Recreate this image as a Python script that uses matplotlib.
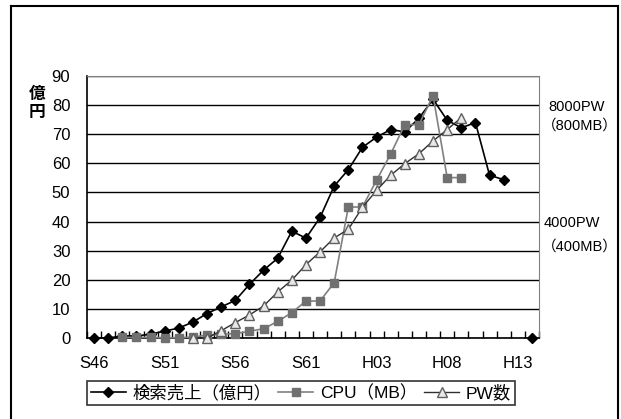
import numpy as np
import matplotlib
matplotlib.use("Agg")
import matplotlib.pyplot as plt
from matplotlib.lines import Line2D

plt.rcParams["font.family"] = ["Liberation Sans", "Noto Sans CJK JP"]

# categories: S46 (1971) .. H14 (2002)
years = list(range(1971, 2003))
tick_labels = ["S46", "S51", "S56", "S61", "H03", "H08", "H13"]

# 検索売上(億円)
sales = [0, 0, 0.7, 0.7, 1.3, 2.4, 3.4, 5.5, 8.4, 10.7, 12.9, 18.4, 23.3, 27.4,
         36.7, 34.3, 41.4, 52.2, 57.8, 65.5, 69.0, 71.6, 70.8, 75.5, 82.0,
         74.8, 72.2, 74.0, 55.9, 54.4, None, 0]
# CPU(MB) (scaled /10)
cpu = [None, None, 0.2, 0.2, 0.2, 0.1, 0.1, 0.3, 1.0, 1.3, 1.5, 2.3, 3.2, 5.7,
       8.7, 12.7, 12.7, 19.0, 45.0, 45.0, 54.2, 63.2, 73.3, 73.3, 83.2,
       55.1, 55.1, None, None, None, None, None]
# PW数 (scaled /100)
pw = [None] * 7 + [0, 0, 2.5, 5.3, 7.9, 11.0, 15.8, 19.9, 25.2, 29.6, 34.4,
                   37.3, 44.9, 50.7, 55.9, 59.9, 63.3, 67.7, 71.6, 75.7,
                   None, None, None, None, None]

labels = ["検索売上（億円）", "CPU（MB）", "PW数"]

def arr(v):
    return np.array([np.nan if a is None else a for a in v], dtype=float)

x = np.arange(len(years))

fig = plt.figure(figsize=(6.21, 4.19), dpi=100)
ax = fig.add_axes([87 / 621, 1 - 338 / 419, 452 / 621, 262 / 419])

ax.plot(x, arr(sales), color="black", lw=1.2, marker="D", ms=5.5,
        mfc="black", mec="black", clip_on=False, zorder=3, label=labels[0])
ax.plot(x, arr(cpu), color="#808080", lw=1.2, marker="s", ms=5.5,
        mfc="#707070", mec="#707070", clip_on=False, zorder=4, label=labels[1])
ax.plot(x, arr(pw), color="#303030", lw=1.0, marker="^", ms=7,
        mfc="#e8e8e8", mec="#606060", mew=1.0, clip_on=False, zorder=5,
        label=labels[2])

ax.set_xlim(-0.5, len(years) - 0.5)
ax.set_ylim(0, 90)
ax.set_yticks(range(0, 91, 10))
ax.grid(axis="y", color="black", lw=1.0)
ax.set_axisbelow(True)

ax.set_xticks(np.arange(0, 31, 5))
ax.set_xticklabels(tick_labels)
ax.set_xticks(np.arange(-0.5, len(years), 1), minor=True)
ax.tick_params(axis="x", which="major", length=0, pad=13, labelsize=12)
ax.tick_params(axis="x", which="minor", direction="in", length=5, width=1, color="black")
ax.tick_params(axis="y", length=0, pad=12, labelsize=12)

for s in ["top", "right"]:
    ax.spines[s].set_color("#808080")
for s in ["left", "bottom"]:
    ax.spines[s].set_color("black")
    ax.spines[s].set_linewidth(1.2)

fig.text(37 / 621, 1 - 103 / 419, "億\n円", ha="center", va="center",
         fontsize=12, fontweight="bold", linespacing=1.0,
         family=["Noto Sans CJK JP"])

rt = dict(ha="left", va="center", fontsize=10.5, transform=fig.transFigure)
fig.text(548 / 621, 1 - 107 / 419, "8000PW", **rt)
fig.text(542 / 621, 1 - 126 / 419, "（800MB）", **rt)
fig.text(544 / 621, 1 - 223 / 419, "4000PW", **rt)
fig.text(542 / 621, 1 - 247 / 419, "（400MB）", **rt)

leg = fig.legend(loc="center", bbox_to_anchor=(301 / 621, 1 - 393 / 419), ncol=3,
                 frameon=True, fancybox=False, edgecolor="black", fontsize=12.5,
                 handlelength=2.0, columnspacing=0.4, handletextpad=0.4,
                 borderpad=0.2, borderaxespad=0)
leg.get_frame().set_linewidth(1.2)

# outer frame
fr = dict(color="black", lw=1.5, transform=fig.transFigure)
fig.add_artist(Line2D([10.5 / 621, 10.5 / 621], [0, 1 - 6 / 419], **fr))
fig.add_artist(Line2D([10.5 / 621, 618 / 621], [1 - 6 / 419, 1 - 6 / 419], **fr))
fig.add_artist(Line2D([618 / 621, 618 / 621], [0, 1 - 6 / 419], **fr))

fig.savefig("out.png", dpi=100)
